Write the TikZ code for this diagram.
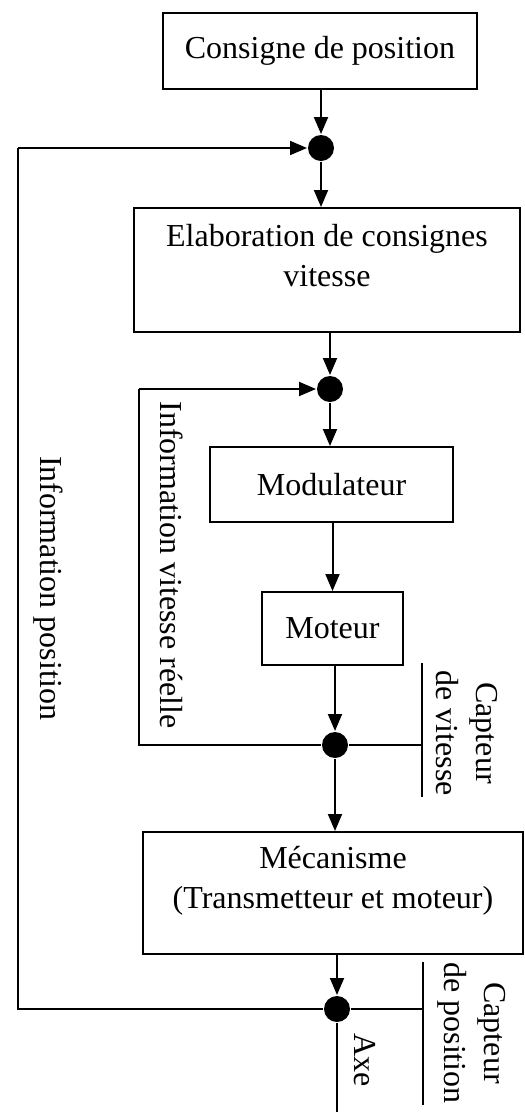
\documentclass[tikz,border=0pt]{standalone}
\usepackage{fontspec}
\setmainfont{Liberation Serif}
\usetikzlibrary{arrows.meta}
\begin{document}
\begin{tikzpicture}[x=1pt,y=-1pt,
  line width=2pt,
  box/.style={draw, line width=2pt, inner sep=0pt},
  lab/.style={font=\fontsize{32}{40}\selectfont, align=center, inner sep=0pt},
  junc/.style={circle, fill=black, minimum size=26pt, inner sep=0pt},
  arr/.style={-{Triangle[length=17pt,width=14pt]}},
]
\useasboundingbox (0,0) rectangle (525,1112);
% blocks
\node[box, lab, minimum width=314pt, minimum height=76pt] (cons) at (320,51) {Consigne de position};
\node[junc] (j1) at (321,148) {};
\node[box, minimum width=386pt, minimum height=124pt] (elab) at (327,270) {};
\node[lab] (elabt) at (327,256) {Elaboration de consignes\\vitesse};
\node[junc] (j2) at (330,389) {};
\node[box, lab, minimum width=243pt, minimum height=75pt] (mod) at (331.5,484.5) {Modulateur};
\node[box, lab, minimum width=141pt, minimum height=73pt] (mot) at (332.5,628.5) {Moteur};
\node[junc] (j3) at (335,745) {};
\node[box, minimum width=380pt, minimum height=122pt] (meca) at (333,893) {};
\node[lab] (mecat) at (333,881) {Mécanisme\\(Transmetteur et moteur)};
\node[junc] (j4) at (337,1009) {};
% coordinates
\coordinate (o1) at (18,148);
\coordinate (o2) at (18,1009);
\coordinate (i1) at (139,389);
\coordinate (i2) at (139,745);
\coordinate (sv) at (422,745);
\coordinate (sv1) at (422,663);
\coordinate (sv2) at (422,797);
\coordinate (sp) at (423,1009);
\coordinate (sp1) at (423,962);
\coordinate (sp2) at (423,1105);
\coordinate (axe) at (337,1112);
% main chain
\draw[arr] (cons.south -| j1) -- (j1);
\draw[arr] (j1) -- (j1 |- elab.north);
\draw[arr] (elab.south -| j2) -- (j2);
\draw[arr] (j2) -- (j2 |- mod.north);
\draw[arr] (mod.south -| mot) -- (mot.north);
\draw[arr] (mot.south -| j3) -- (j3);
\draw[arr] (j3) -- (j3 |- meca.north);
\draw[arr] (meca.south -| j4) -- (j4);
\draw (j4) -- (axe);
% feedback loops
\draw[arr] (o1) -- (j1);
\draw[line join=miter] (j4) -- (o2) -- (o1);
\draw[arr] (i1) -- (j2);
\draw[line join=miter] (j3) -- (i2) -- (i1);
% sensors
\draw (j3) -- (sv);
\draw (sv1) -- (sv2);
\draw (j4) -- (sp);
\draw (sp1) -- (sp2);
% labels
\node[lab, rotate=-90] (infv) at (172,565) {Information vitesse réelle};
\node[lab, rotate=-90] (infp) at (48,588) {Information position};
\node[lab, rotate=-90] (capv) at (467,733) {Capteur\\de vitesse};
\node[lab, rotate=-90] (capp) at (472,1033) {Capteur\\de position};
\node[lab, rotate=-90] (axet) at (365,1060) {Axe};
\end{tikzpicture}
\end{document}
